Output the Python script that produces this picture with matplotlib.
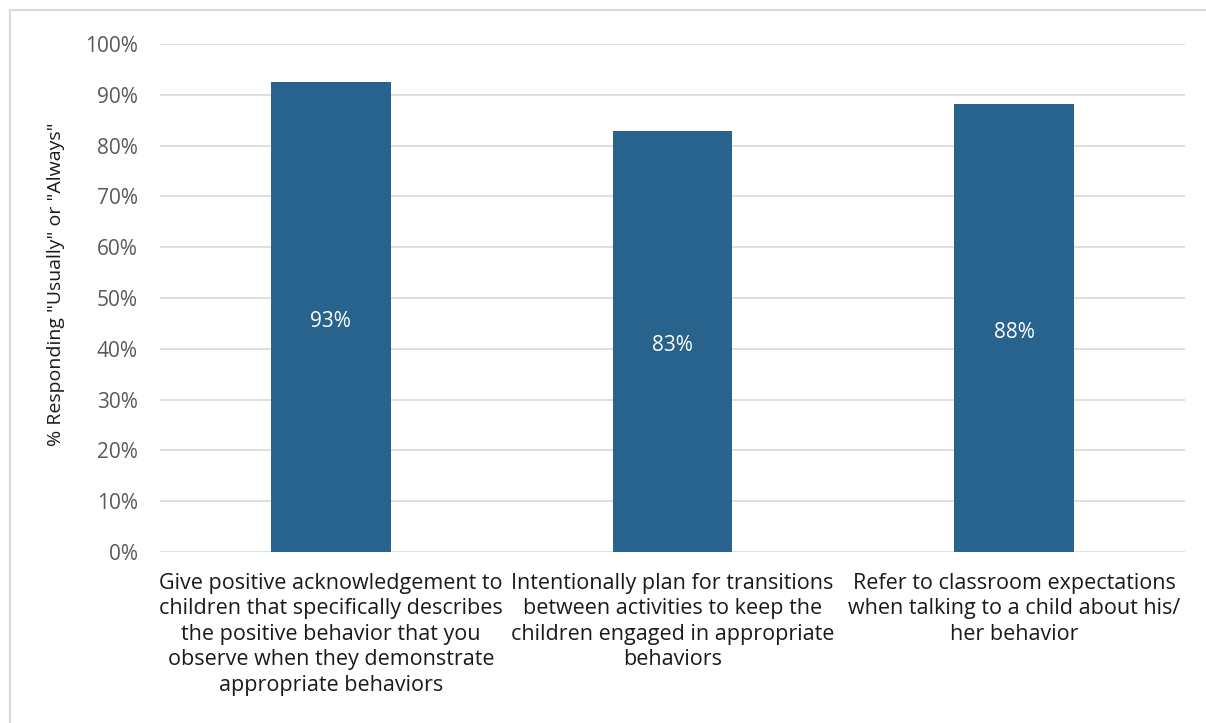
import matplotlib
matplotlib.use("Agg")
import matplotlib.pyplot as plt
from matplotlib.patches import Rectangle
import numpy as np

categories = [
    "Give positive acknowledgement to\nchildren that specifically describes\nthe positive behavior that you\nobserve when they demonstrate\nappropriate behaviors",
    "Intentionally plan for transitions\nbetween activities to keep the\nchildren engaged in appropriate\nbehaviors",
    "Refer to classroom expectations\nwhen talking to a child about his/\nher behavior",
]
values = [92.5, 82.9, 88.2]
value_labels = ["93%", "83%", "88%"]
y_ticks = [0, 10, 20, 30, 40, 50, 60, 70, 80, 90, 100]

plt.rcParams["font.family"] = ["Open Sans", "DejaVu Sans"]

fig = plt.figure(figsize=(12.06, 7.23), dpi=100)
ax = fig.add_axes([160 / 1206, 1 - 552 / 723, 1025 / 1206, 508 / 723])

# outer chart border
fig.patches.append(Rectangle((10 / 1206, -0.01), 1.2, 1 - 10 / 723 + 0.01,
                             transform=fig.transFigure, fill=False,
                             edgecolor="#d9d9d9", linewidth=1.5))

x = np.arange(len(categories))
bars = ax.bar(x, values, width=0.35, color="#27638c", zorder=3)

for b, lab in zip(bars, value_labels):
    ax.annotate(lab, (b.get_x() + b.get_width() / 2, b.get_height() / 2),
                xytext=(0, -3), textcoords="offset points",
                ha="center", va="center", color="white", fontsize=15)

ax.set_xlim(-0.5, len(categories) - 0.5)
ax.set_ylim(0, 100)
ax.set_yticks(y_ticks)
ax.set_yticklabels([f"{t}%" for t in y_ticks], color="#595959", fontsize=15)
ax.set_xticks(x)
ax.set_xticklabels(categories, fontsize=15.5, color="#1a1a1a", linespacing=1.28,
                   va="top")
ax.tick_params(axis="both", length=0)
ax.tick_params(axis="y", pad=16)
ax.tick_params(axis="x", pad=15)
ax.grid(True, axis="y", color="#d9d9d9", linewidth=1.2, zorder=0)
for s in ax.spines.values():
    s.set_visible(False)

ax.set_ylabel('% Responding "Usually" or "Always"', fontsize=14, color="#1a1a1a")
ax.yaxis.set_label_coords(-95 / 1025, 0.528)

fig.savefig("out.png", dpi=100)
